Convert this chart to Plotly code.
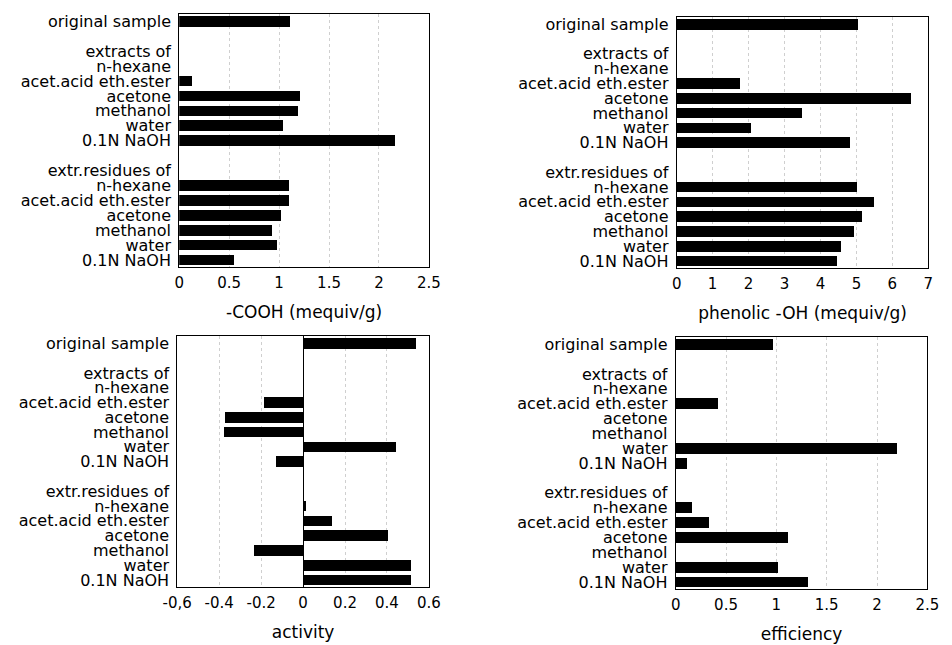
import plotly.graph_objects as go

labels = ["original sample", "", "extracts of", "n-hexane", "acet.acid eth.ester", "acetone",
          "methanol", "water", "0.1N NaOH", "", "extr.residues of", "n-hexane",
          "acet.acid eth.ester", "acetone", "methanol", "water", "0.1N NaOH"]

cooh = [1.11, None, None, None, 0.13, 1.21, 1.19, 1.04, 2.16, None, None,
        1.10, 1.10, 1.02, 0.93, 0.98, 0.55]
phenolic = [5.03, None, None, None, 1.76, 6.51, 3.47, 2.07, 4.80, None, None,
            5.00, 5.47, 5.14, 4.92, 4.57, 4.46]
activity = [0.54, None, None, None, -0.185, -0.37, -0.374, 0.445, -0.128, None, None,
            0.014, 0.137, 0.406, -0.235, 0.514, 0.514]
efficiency = [0.96, None, None, None, 0.42, None, None, 2.20, 0.11, None, None,
              0.16, 0.33, 1.11, None, 1.01, 1.31]

titles = ["-COOH (mequiv/g)", "phenolic -OH (mequiv/g)", "activity", "efficiency"]
xranges = [[0, 2.5], [0, 7], [-0.6, 0.6], [0, 2.5]]
xticks = [[0, 0.5, 1, 1.5, 2, 2.5], [0, 1, 2, 3, 4, 5, 6, 7],
          [-0.6, -0.4, -0.2, 0, 0.2, 0.4, 0.6], [0, 0.5, 1, 1.5, 2, 2.5]]
xticktext = [["0", "0.5", "1", "1.5", "2", "2.5"], [str(i) for i in range(8)],
             ["-0,6", "-0.4", "-0.2", "0", "0.2", "0.4", "0.6"], ["0", "0.5", "1", "1.5", "2", "2.5"]]
series = [cooh, phenolic, activity, efficiency]

W, H = 952, 645
boxes = [(169, 426, 12, 267), (681, 940, 15, 268), (167, 426, 336, 589), (680, 939, 337, 591)]

FONT = "DejaVu Sans, sans-serif"
fig = go.Figure()
ypos = list(range(len(labels)))

for i in range(4):
    n = "" if i == 0 else str(i + 1)
    fig.add_trace(go.Bar(x=series[i], y=ypos, orientation="h", width=0.72,
                         marker=dict(color="black", line=dict(width=0)),
                         xaxis="x" + n, yaxis="y" + n, showlegend=False))
    x0, x1, y0, y1 = boxes[i]
    fig.layout["xaxis" + n] = dict(
        domain=[x0 / W, x1 / W], range=xranges[i], anchor="y" + n,
        tickvals=xticks[i], ticktext=xticktext[i], ticks="", ticklabelstandoff=2,
        showgrid=True, gridcolor="#cfcfcf", griddash="dot", gridwidth=1,
        zeroline=(i == 2), zerolinecolor="black", zerolinewidth=1,
        showline=True, linecolor="black", linewidth=1, mirror=True,
        tickfont=dict(family=FONT, size=15, color="black"),
        title=dict(text=titles[i], font=dict(family=FONT, size=17, color="black"), standoff=14),
    )
    fig.layout["yaxis" + n] = dict(
        domain=[1 - y1 / H, 1 - y0 / H], range=[len(labels) - 0.5, -0.5], anchor="x" + n,
        tickvals=ypos, ticktext=labels, ticks="", ticklabelstandoff=4,
        showgrid=False, zeroline=False,
        showline=True, linecolor="black", linewidth=1, mirror=True,
        tickfont=dict(family=FONT, size=16, color="black"),
    )

fig.update_layout(width=W, height=H, margin=dict(l=0, r=0, t=0, b=0),
                  paper_bgcolor="white", plot_bgcolor="white", bargap=0)
fig.write_html("out.html")
